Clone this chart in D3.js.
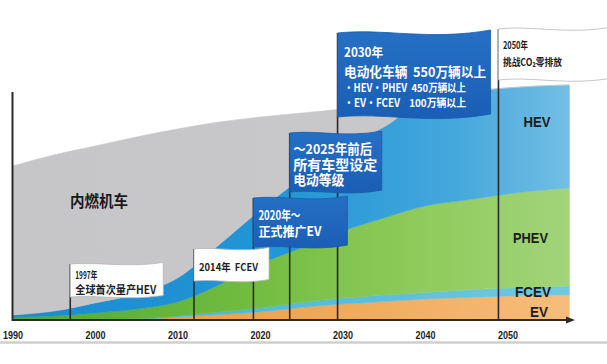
<!DOCTYPE html>
<html><head><meta charset="utf-8">
<script src="https://cdn.jsdelivr.net/npm/d3@7"></script>
<style>html,body{margin:0;padding:0;background:#fff;} svg{display:block;} text{white-space:pre;}</style>
</head><body>
<svg id="chart" width="607" height="364"></svg>
<script>
// ---------------- data ----------------
const years = [1990,1995,2000,2005,2010,2015,2020,2025,2030,2035,2040,2045,2050,2057.5];
const ev    = [0,0,0,0.2,1.3,2.4,3.5,5.5,7.0,8.1,9.2,9.9,10.5,11.0];
const fcev  = [0,0,0,0.2,0.5,1.1,1.8,2.2,2.6,2.9,2.9,3.3,3.5,3.9];
const phev  = [1.3,1.8,3.1,4.4,6.1,11.9,19.3,23.9,29.4,33.7,37.9,39.4,41.3,43.0];
const hev   = [0.9,2.1,4.4,6.6,10.5,17.5,23.6,30.7,36.9,39.9,46.5,47.4,46.5,45.2];
const ice   = [65.3,68.5,68.8,68.9,65.4,53.9,40.8,28.5,16.6,10.1,0,0,0,0];
const seriesKeys = ["EV","FCEV","PHEV","HEV","内燃机车"];
const tickYears = [1990,2000,2010,2020,2030,2040,2050];
const milestoneYears = [1997, 2012, 2019.2, 2023.6, 2029.4, 2048.9];
const milestoneTexts = [
  ["1997年","全球首次量产HEV"],
  ["2014年  FCEV"],
  ["2020年～","正式推广EV"],
  ["～2025年前后","所有车型设定","电动等级"],
  ["2030年","电动化车辆  550万辆以上","・HEV・PHEV  450万辆以上","・EV・FCEV    100万辆以上"],
  ["2050年","挑战CO₂零排放"]
];
const endLabels = ["HEV","PHEV","FCEV","EV"];
const iceLabel = "内燃机车";

// ---------------- layout / style ----------------
const W = 607, H = 364;
const svg = d3.select("#chart");
const x = d3.scaleLinear().domain([1990, 2057.5]).range([12.5, 569.4]);
const y = d3.scaleLinear().domain([0, 100]).range([320, 92]);
const cjk = "'Noto Sans CJK SC','Noto Sans',sans-serif";

const rows = years.map((yr,i)=>({year:yr, "EV":ev[i], "FCEV":fcev[i], "PHEV":phev[i], "HEV":hev[i], "内燃机车":ice[i]}));
const stack = d3.stack().keys(seriesKeys)(rows);

const defs = svg.append("defs");
function grad(id, stops){
  const g = defs.append("linearGradient").attr("id",id).attr("gradientUnits","userSpaceOnUse")
    .attr("x1",12).attr("x2",570).attr("y1",0).attr("y2",0);
  stops.forEach(s=>g.append("stop").attr("offset",s[0]).attr("stop-color",s[1]));
}
grad("gEV",   [[0,"#ec9836"],[0.5,"#f0a650"],[1,"#f5bd7c"]]);
grad("gFCEV", [[0,"#3fb0d8"],[0.6,"#58bddc"],[1,"#72c8e2"]]);
grad("gPHEV", [[0,"#4fa838"],[0.4,"#6fbb3e"],[0.7,"#8cca58"],[1,"#a2d47a"]]);
grad("gHEV",  [[0,"#1a8bd0"],[0.5,"#2396d6"],[0.8,"#45a8dc"],[1,"#74bee4"]]);
grad("gICE",  [[0,"#c6c6c8"],[1,"#c9c9cb"]]);
const bg = defs.append("linearGradient").attr("id","gFlag").attr("x1",0).attr("x2",0).attr("y1",0).attr("y2",1);
bg.append("stop").attr("offset",0).attr("stop-color","#2570c6");
bg.append("stop").attr("offset",1).attr("stop-color","#1a5eb5");
const fills = {"EV":"url(#gEV)","FCEV":"url(#gFCEV)","PHEV":"url(#gPHEV)","HEV":"url(#gHEV)","内燃机车":"url(#gICE)"};

const area = d3.area().x(d=>x(d.data.year)).y0(d=>y(d[0])).y1(d=>y(d[1])).curve(d3.curveMonotoneX);
svg.append("g").selectAll("path").data(stack).join("path")
  .attr("d", area).attr("fill", d=>fills[d.key]).attr("stroke", d=>fills[d.key]).attr("stroke-width",0.5);

// bottom grey rule
svg.append("line").attr("x1",0).attr("x2",W).attr("y1",342.5).attr("y2",342.5)
  .attr("stroke","#cfcfcf").attr("stroke-width",2.5);

// flag layout (pixel geometry, annotation only)
const flagLayout = [
  {w:93,  top:264, bot:297, amp:2.5, blue:false, tx:5, base:[279,294], size:[10.5,11], len:[22,81]},
  {w:75,  top:249, bot:281, amp:2.5, blue:false, tx:5, base:[271], size:[10.5], len:[59]},
  {w:94,  top:198, bot:247, amp:3,   blue:true,  tx:5, base:[220,236], size:[12.5,13], len:[42,63]},
  {w:92,  top:133, bot:192, amp:3,   blue:true,  tx:3.5, base:[154,169.5,185], size:[13.5,14,14], len:[79,84,51]},
  {w:153, top:33,  bot:117, amp:5,   blue:true,  tx:6.5, base:[57,76.5,91.5,106.5], size:[12.5,13.5,11,11], len:[39,142,122,122]},
  {w:116, top:29,  bot:80,  amp:4,   blue:false, tx:4.5, base:[49,66], size:[10,10.5], len:[25,59]}
];

function flagPath(x0, L){
  const w=L.w, t=L.top, b=L.bot, a=L.amp;
  return `M${x0},${t} C${x0+w*0.3},${t-a} ${x0+w*0.6},${t+a*1.6} ${x0+w},${t-a*0.6}`+
         ` L${x0+w},${b-a*0.6} C${x0+w*0.6},${b+a*1.6} ${x0+w*0.3},${b-a} ${x0},${b} Z`;
}

// poles
svg.append("g").selectAll("line").data(milestoneYears).join("line")
  .attr("x1",d=>x(d)).attr("x2",d=>x(d)).attr("y1",(d,i)=>flagLayout[i].top).attr("y2",y(0))
  .attr("stroke","#2b2b2b").attr("stroke-width",1.6);

// flags
const fg = svg.append("g").selectAll("g").data(milestoneYears).join("g");
fg.append("path").attr("d",(d,i)=>flagPath(x(d), flagLayout[i]))
  .attr("fill",(d,i)=>flagLayout[i].blue ? "url(#gFlag)" : "#ffffff")
  .attr("stroke",(d,i)=>flagLayout[i].blue ? "#1a5aa8" : "#b8b8b8")
  .attr("stroke-width",0.8);
fg.each(function(d,i){
  const L = flagLayout[i];
  const g = d3.select(this);
  milestoneTexts[i].forEach((t,j)=>{
    g.append("text").attr("x", x(d)+L.tx).attr("y", L.base[j])
      .attr("xml:space","preserve")
      .attr("font-family", cjk).attr("font-weight", 700).attr("font-size", L.size[j])
      .attr("fill", L.blue ? "#ffffff" : "#1e1e1e")
      .attr("textLength", L.len[j]).attr("lengthAdjust","spacingAndGlyphs")
      .text(t);
  });
});

// ICE label
svg.append("text").attr("x",70).attr("y",206.5).attr("font-family",cjk).attr("font-weight",700)
  .attr("font-size",15.5).attr("fill","#1a1a1a").attr("textLength",58).attr("lengthAdjust","spacingAndGlyphs")
  .text(iceLabel);

// end labels (positioned at right end of stack)
const endPos = {"HEV":{x:537, y:127, len:27}, "PHEV":{x:530.5, y:243, len:35}, "FCEV":{x:533, y:297, len:36}, "EV":{x:539, y:317, len:18}};
svg.append("g").selectAll("text").data(endLabels).join("text")
  .attr("x",d=>endPos[d].x).attr("y",d=>endPos[d].y).attr("text-anchor","middle")
  .attr("font-family","'Liberation Sans','Noto Sans',sans-serif").attr("font-weight",700)
  .attr("font-size",15.5).attr("fill","#1c1c1c")
  .attr("textLength",d=>endPos[d].len).attr("lengthAdjust","spacingAndGlyphs")
  .text(d=>d);

// axes
const ax = svg.append("g").attr("transform",`translate(0,${y(0)})`)
  .call(d3.axisBottom(x).tickValues(tickYears).tickFormat(d3.format("d")).tickSize(0).tickPadding(0));
ax.select(".domain").remove();
ax.selectAll("text").attr("y",19).attr("dy",0)
  .attr("font-family","'Liberation Sans','Noto Sans',sans-serif").attr("font-weight",700)
  .attr("font-size",10.5).attr("fill","#1e1e1e")
  .attr("textLength",20).attr("lengthAdjust","spacingAndGlyphs");

svg.append("line").attr("x1",x(1990)).attr("x2",x(1990)).attr("y1",y(100)).attr("y2",y(0)+1)
  .attr("stroke","#2b2b2b").attr("stroke-width",2);
svg.append("line").attr("x1",x(1990)).attr("x2",567).attr("y1",y(0)).attr("y2",y(0))
  .attr("stroke","#2b2b2b").attr("stroke-width",2);
svg.append("path").attr("d",`M566,${y(0)-3.5} L575,${y(0)} L566,${y(0)+3.5} Z`).attr("fill","#2b2b2b");
</script>
</body></html>
